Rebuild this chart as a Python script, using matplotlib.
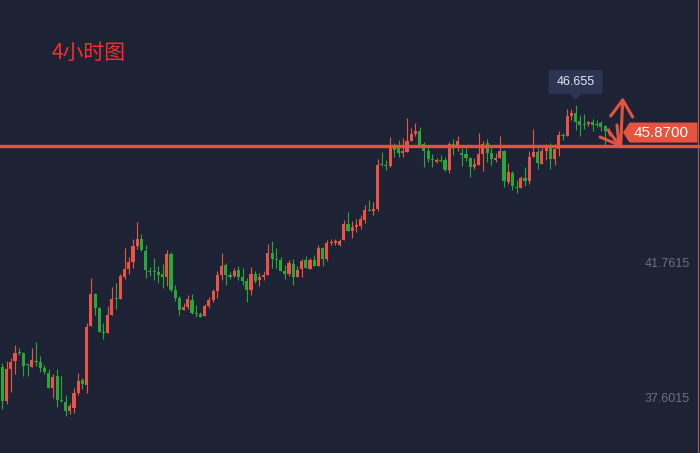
import numpy as np
import matplotlib.pyplot as plt
import matplotlib.transforms as mtransforms
from matplotlib.patches import Polygon, FancyBboxPatch

# 4h candles (red = up, green = down)
opens = [
    38.59, 37.54, 38.52, 38.76, 39.03, 39.01, 38.66, 38.59, 38.77, 38.73,
    38.55, 38.39, 37.94, 38.30, 37.56, 37.50, 37.23, 37.32, 37.78, 38.18,
    38.02, 39.84, 40.83, 40.40, 39.66, 39.63, 40.18, 40.71, 40.68, 41.35,
    41.60, 41.82, 42.31, 42.53, 42.16, 41.54, 41.54, 41.51, 41.45, 41.35,
    42.06, 40.95, 40.71, 40.34, 40.43, 40.65, 40.24, 40.21, 40.15, 40.46,
    40.65, 40.92, 41.42, 41.72, 41.42, 41.39, 41.57, 41.35, 41.23, 40.95,
    41.45, 41.26, 41.35, 41.42, 42.09, 41.91, 41.88, 41.54, 41.45, 41.75,
    41.35, 41.60, 41.88, 41.60, 41.88, 41.69, 42.25, 41.91, 42.40, 42.40,
    42.34, 42.50, 42.99, 42.77, 42.90, 42.93, 43.11, 43.42, 43.39, 43.45,
    44.84, 44.81, 44.78, 45.36, 45.43, 45.18, 45.21, 45.55, 45.76, 45.86,
    45.46, 45.24, 44.99, 44.90, 44.96, 44.96, 44.65, 45.46, 45.43, 45.18,
    45.15, 45.02, 44.75, 44.81, 45.15, 45.49, 45.18, 44.96, 45.02, 45.24,
    44.28, 44.56, 44.13, 44.10, 44.41, 44.31, 45.05, 45.21, 44.84, 45.24,
    45.36, 44.99, 45.30, 45.73, 45.70, 46.32, 46.41, 46.16, 46.07, 46.07,
    46.13, 46.07, 46.10, 46.01, 45.77,
]
highs = [
    38.71, 38.76, 38.86, 39.26, 39.17, 39.04, 38.70, 39.17, 39.35, 38.92,
    38.64, 38.52, 38.36, 38.52, 38.30, 37.72, 37.47, 37.93, 38.39, 38.24,
    39.94, 41.32, 40.86, 40.43, 39.94, 40.46, 41.05, 41.17, 41.45, 42.25,
    41.97, 42.53, 43.05, 42.68, 42.34, 41.66, 41.94, 41.69, 41.75, 42.19,
    42.13, 41.11, 40.77, 40.55, 40.80, 40.83, 40.49, 40.27, 40.52, 40.74,
    40.98, 41.54, 42.09, 41.79, 41.51, 41.63, 41.69, 41.63, 41.32, 41.66,
    41.54, 41.48, 41.54, 42.37, 42.46, 42.25, 41.97, 41.72, 41.88, 41.91,
    41.69, 41.91, 42.00, 41.94, 42.03, 42.34, 42.28, 42.50, 42.53, 42.53,
    42.53, 43.11, 43.36, 43.08, 43.14, 43.27, 43.57, 43.73, 43.67, 44.99,
    45.21, 44.96, 45.67, 45.49, 45.58, 45.64, 46.26, 45.95, 46.10, 45.98,
    45.52, 45.36, 45.15, 45.02, 45.12, 45.05, 45.52, 45.61, 45.70, 45.33,
    45.33, 45.05, 45.02, 45.80, 45.55, 45.61, 45.33, 45.18, 45.70, 45.27,
    44.87, 44.62, 44.35, 44.47, 44.75, 45.24, 45.92, 45.33, 45.33, 45.46,
    45.49, 45.46, 45.86, 45.80, 46.53, 46.53, 46.66, 46.35, 46.38, 46.17,
    46.23, 46.20, 46.17, 46.04, 45.95,
]
lows = [
    37.28, 37.44, 37.82, 38.37, 38.95, 38.31, 38.31, 38.58, 38.61, 38.43,
    38.37, 37.93, 37.63, 37.35, 37.49, 37.08, 37.14, 37.16, 37.72, 37.90,
    37.78, 39.83, 40.18, 39.65, 39.44, 39.62, 40.17, 40.37, 40.67, 41.29,
    41.45, 41.63, 42.22, 42.16, 41.32, 41.39, 41.26, 41.17, 41.02, 41.08,
    40.89, 40.61, 40.18, 40.33, 40.37, 40.21, 40.12, 40.11, 40.14, 40.40,
    40.58, 40.71, 41.26, 41.11, 41.29, 41.35, 41.26, 41.11, 40.58, 40.80,
    41.17, 41.08, 41.26, 41.41, 41.63, 41.63, 41.53, 41.29, 41.39, 41.11,
    41.34, 41.35, 41.62, 41.59, 41.68, 41.68, 41.69, 41.85, 42.34, 42.35,
    42.31, 42.49, 42.76, 42.56, 42.74, 42.83, 43.02, 43.38, 43.27, 43.39,
    44.78, 44.65, 44.75, 45.05, 45.05, 45.05, 45.20, 45.54, 45.70, 45.42,
    44.75, 44.90, 44.75, 44.87, 44.90, 44.62, 44.56, 45.12, 45.24, 44.78,
    44.93, 44.44, 44.68, 44.80, 44.62, 44.90, 44.81, 44.90, 45.01, 44.13,
    44.22, 44.04, 43.94, 44.09, 44.16, 44.22, 45.04, 44.68, 44.83, 44.96,
    44.68, 44.81, 45.09, 45.58, 45.69, 46.20, 45.89, 45.70, 45.92, 46.01,
    45.86, 45.98, 45.86, 45.43, 45.70,
]
closes = [
    37.54, 38.52, 38.73, 39.01, 39.00, 38.61, 38.64, 38.80, 38.74, 38.56,
    38.43, 37.94, 38.27, 37.56, 37.53, 37.23, 37.38, 37.78, 38.15, 38.05,
    39.81, 40.83, 40.40, 39.66, 39.63, 40.18, 40.68, 40.68, 41.39, 41.60,
    41.82, 42.31, 42.53, 42.19, 41.57, 41.51, 41.51, 41.42, 41.35, 42.06,
    40.95, 40.71, 40.34, 40.43, 40.68, 40.24, 40.21, 40.12, 40.46, 40.65,
    40.92, 41.42, 41.69, 41.42, 41.35, 41.54, 41.35, 41.23, 40.95, 41.45,
    41.23, 41.35, 41.42, 42.09, 41.91, 41.88, 41.54, 41.45, 41.79, 41.35,
    41.57, 41.85, 41.63, 41.88, 41.69, 42.25, 41.91, 42.40, 42.43, 42.46,
    42.46, 42.99, 42.77, 42.90, 42.96, 43.14, 43.42, 43.39, 43.45, 44.81,
    44.81, 44.78, 45.36, 45.27, 45.18, 45.24, 45.55, 45.76, 45.86, 45.43,
    45.24, 44.99, 44.96, 44.96, 44.93, 44.65, 45.46, 45.43, 45.55, 45.12,
    45.02, 44.75, 44.84, 45.15, 45.46, 45.18, 44.99, 45.02, 45.24, 44.31,
    44.59, 44.16, 44.10, 44.41, 44.31, 45.05, 45.21, 44.87, 45.24, 45.40,
    44.99, 45.30, 45.73, 45.70, 46.32, 46.41, 46.13, 46.04, 46.04, 46.13,
    46.04, 46.04, 45.98, 45.86, 45.87,
]

axis_labels = [41.7615, 37.6015]
last_price = 45.87
high_price = 46.655
drawn_level = 45.39
title = "4小时图"

BG = "#1d2335"
UP = "#eb5347"
DOWN = "#28a838"
W, H = 700, 453

fig = plt.figure(figsize=(W / 100, H / 100), dpi=100, facecolor=BG)
ax = fig.add_axes([0, 0, 1, 1], facecolor=BG)
ax.set_xlim(-0.55, 165.5)
ax.set_ylim(35.927, 49.896)
ax.axis("off")

o = np.array(opens)
h = np.array(highs)
l = np.array(lows)
c = np.array(closes)
x = np.arange(len(o))
colors = np.where(c >= o, UP, DOWN)

ax.vlines(x, l, h, colors=colors, linewidth=0.8, zorder=2)
body = np.maximum(np.abs(c - o), 0.035)
ax.bar(x, body, bottom=np.minimum(o, c), width=0.74, color=colors,
       linewidth=0, zorder=3)

# hand drawn support line
ax.axhline(drawn_level, color="#e2533f", linewidth=2.4, zorder=4)


def fx(px):
    return px / W


def fy(py):
    return 1 - py / H


def to_py(v):
    return H - ax.transData.transform((0, v))[1]


def to_px(i):
    return ax.transData.transform((i, 0))[0]


tf = fig.transFigure

# right axis labels
blend = mtransforms.blended_transform_factory(ax.transAxes, ax.transData)
for v in axis_labels:
    ax.text(690 / W, v, f"{v:.4f}", transform=blend, ha="right", va="center",
            color="#69707f", fontsize=9, family="Liberation Sans")

# thin right border
fig.add_artist(plt.Line2D([fx(697.5), fx(697.5)], [0, 1], transform=tf,
                          color="#b3603c", linewidth=0.8))

# last price tag
yc = to_py(last_price) + 2
tag = [(623, yc), (629.5, yc - 10), (697.5, yc - 10), (697.5, yc + 10), (629.5, yc + 10)]
fig.add_artist(Polygon([(fx(a), fy(b)) for a, b in tag], closed=True,
                       transform=tf, facecolor="#e8533f", edgecolor="none"))
fig.text(fx(661), fy(yc), f"{last_price:.4f}", color="white", fontsize=11,
         family="Liberation Sans", ha="center", va="center")

# high price bubble
hi = int(np.argmax(h))
hx = to_px(hi)
hy = to_py(h[hi])
fig.add_artist(FancyBboxPatch((fx(hx - 27), fy(hy - 11)), 54 / W, 24 / H,
                              boxstyle="round,pad=0,rounding_size=0.004",
                              transform=tf, facecolor="#2b3552", edgecolor="none"))
fig.add_artist(Polygon([(fx(hx - 6), fy(hy - 11)), (fx(hx + 6), fy(hy - 11)),
                        (fx(hx), fy(hy - 5))], closed=True, transform=tf,
                       facecolor="#2b3552", edgecolor="none"))
fig.text(fx(hx), fy(hy - 23), f"{high_price:.3f}", color="#e6e9ef", fontsize=9,
         family="Liberation Sans", ha="center", va="center")

# hand drawn arrows
arrow_kw = dict(color="#e5533f", linewidth=2.2, solid_capstyle="round", transform=tf)
strokes = [
    [(620.7, 145), (622.7, 100)],
    [(610.7, 116), (622.7, 100), (632.7, 117)],
    [(608, 130), (619, 145)],
    [(600, 137), (619, 145), (617, 125)],
]
for s in strokes:
    fig.add_artist(plt.Line2D([fx(a) for a, b in s], [fy(b) for a, b in s], **arrow_kw))

fig.text(fx(52), fy(53), title, color="#ff2a2a", fontsize=15,
         family=["Noto Sans CJK SC", "DejaVu Sans"], ha="left", va="center")

fig.savefig("out.png", dpi=100, facecolor=BG)
